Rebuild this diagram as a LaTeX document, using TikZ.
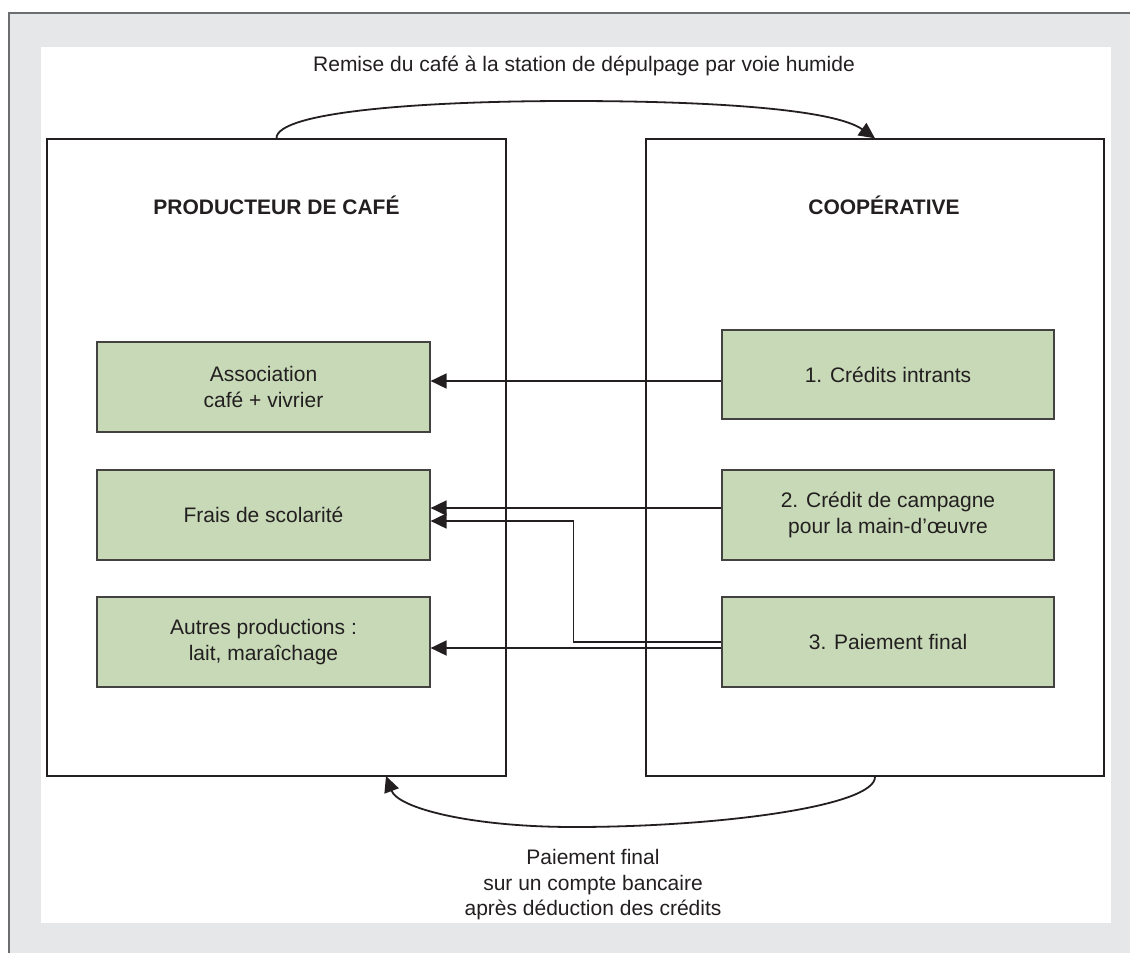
\documentclass[tikz,border=0pt]{standalone}
\usepackage{fontspec}
\setmainfont{Liberation Sans}
\usetikzlibrary{arrows.meta,calc}
\definecolor{framegray}{HTML}{E6E7E8}
\definecolor{frameline}{HTML}{6D6E70}
\definecolor{boxgreen}{HTML}{C7D9B6}
\definecolor{ink}{HTML}{231F20}
\begin{document}
\begin{tikzpicture}[x=1pt,y=-1pt,
  font=\fontsize{21}{26}\selectfont,
  bigbox/.style={draw=ink, line width=1.3pt, fill=white, inner sep=0pt},
  greenbox/.style={draw=ink!85, line width=1.2pt, fill=boxgreen, inner sep=0pt,
    align=center, text=ink},
  title/.style={font=\fontsize{21}{26}\selectfont\bfseries, text=ink},
  lbl/.style={text=ink, align=center, inner sep=0pt},
  arr/.style={draw=ink, line width=1.8pt, -{Triangle[length=16pt,width=15pt]}},
  ln/.style={draw=ink, line width=1.8pt}]
% page and frame
\useasboundingbox (0,0) rectangle (1130,953);
\fill[white] (0,0) rectangle (1130,953);
\fill[framegray] (9,13) rectangle (1130,953);
\draw[frameline, line width=1.5pt] (9,953) -- (9,13) -- (1130,13);
\fill[white] (41,47) rectangle (1111,923);
% big boxes
\node[bigbox, minimum width=459pt, minimum height=637pt] (prod) at (276.5,457.5) {};
\node[bigbox, minimum width=458pt, minimum height=637pt] (coop) at (875,457.5) {};
\node[title] (tprod) at (276.5,205.5) {PRODUCTEUR DE CAFÉ};
\node[title] (tcoop) at (884,205.5) {COOPÉRATIVE};
% green boxes
\node[greenbox, minimum width=333pt, minimum height=90pt] (l1) at (263.5,387) {Association\\café + vivrier};
\node[greenbox, minimum width=333pt, minimum height=90pt] (l2) at (263.5,515) {Frais de scolarité};
\node[greenbox, minimum width=333pt, minimum height=90pt] (l3) at (263.5,642) {Autres productions :\\lait, maraîchage};
\node[greenbox, minimum width=332pt, minimum height=89pt] (r1) at (888,374.5) {1. Crédits intrants};
\node[greenbox, minimum width=332pt, minimum height=90pt] (r2) at (888,515) {2. Crédit de campagne\\pour la main-d’œuvre};
\node[greenbox, minimum width=332pt, minimum height=90pt] (r3) at (888,642) {3. Paiement final};
% horizontal arrows
\draw[arr] ([yshift=-6.5pt]r1.west) -- ([yshift=-6.5pt]r1.west -| l1.east);
\draw[arr] ([yshift=7pt]r2.west) -- ([yshift=7pt]r2.west -| l2.east);
\draw[arr] (r3.west) -- ++(-148,0) |- ([yshift=-6pt]l2.east);
\draw[arr] ([yshift=-6pt]r3.west) -- ([yshift=-6pt]r3.west -| l3.east);
% curved arrows
\coordinate (topmid) at (570,101);
\coordinate (botmid) at (574,827);
\coordinate (botend) at (386,776);
\draw[ln] (prod.north) .. controls (276,112) and (420,101) .. (topmid);
\draw[arr] (topmid) .. controls (720,101) and (835,110) .. (coop.north);
\draw[ln] (coop.south) .. controls (876,806) and (720,827) .. (botmid);
\draw[arr] (botmid) .. controls (470,827) and (398,808) .. (botend);
% labels
\node[lbl, anchor=base] (ttop) at (584,71) {Remise du café à la station de dépulpage par voie humide};
\node[lbl, anchor=base] (tb1) at (593,864) {Paiement final};
\node[lbl, anchor=base] (tb2) at (593,890) {sur un compte bancaire};
\node[lbl, anchor=base] (tb3) at (593,915) {après déduction des crédits};
\end{tikzpicture}
\end{document}
